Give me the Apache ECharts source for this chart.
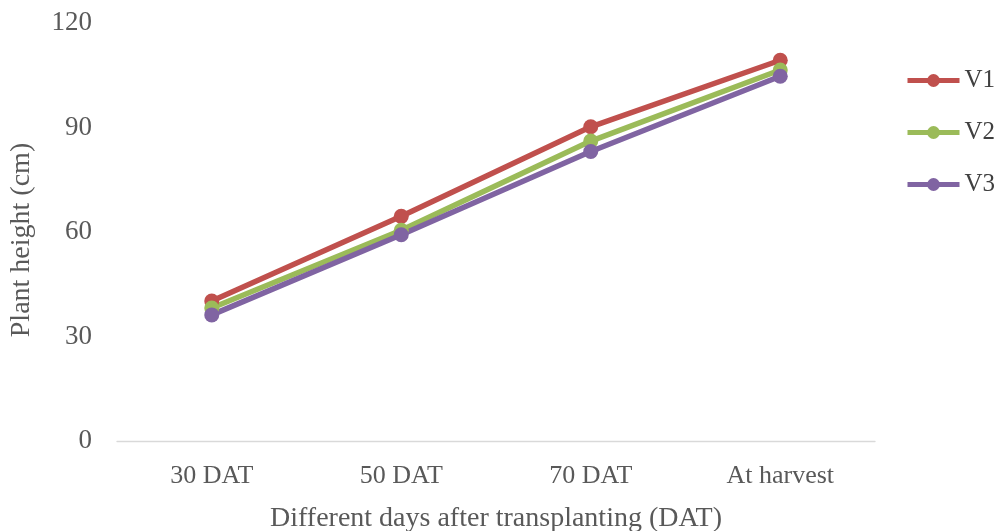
<!DOCTYPE html>
<html>
<head>
<meta charset="utf-8">
<script src="https://cdn.jsdelivr.net/npm/echarts@6/dist/echarts.min.js"></script>
<style>
  html, body { margin: 0; padding: 0; background: #fff; }
  #chart { width: 1000px; height: 531px; }
</style>
</head>
<body>
<div id="chart"></div>
<script>
// Plant height at each growth stage for three varieties
const categories = ['30 DAT', '50 DAT', '70 DAT', 'At harvest'];
const v1 = [40.2, 64.5, 90.2, 109.3];
const v2 = [38.2, 60.5, 86.1, 106.5];
const v3 = [36.2, 59.2, 83.1, 104.7];
const yTicks = { min: 0, max: 120, interval: 30 };

const seriesDefs = [
  { name: 'V1', data: v1, color: '#C0504D' },
  { name: 'V2', data: v2, color: '#9BBB59' },
  { name: 'V3', data: v3, color: '#8064A2' }
];

const font = '"Liberation Serif", "Times New Roman", serif';
const chart = echarts.init(document.getElementById('chart'));
chart.setOption({
  animation: false,
  backgroundColor: '#ffffff',
  grid: { left: 117, right: 125, top: 23, bottom: 90, containLabel: false, outerBoundsMode: 'none' },
  legend: {
    orient: 'vertical',
    left: 905,
    top: 68,
    padding: 0,
    itemWidth: 52,
    itemHeight: 16,
    itemGap: 27,
    lineStyle: { width: 5 },
    textStyle: { fontFamily: font, fontSize: 25, color: '#404040' },
    data: ['V1', 'V2', 'V3']
  },
  xAxis: {
    type: 'category',
    data: categories,
    boundaryGap: true,
    axisLine: { lineStyle: { color: '#D9D9D9', width: 1.3 } },
    axisTick: { show: false },
    axisLabel: { fontFamily: font, fontSize: 26, color: '#595959', margin: 22 },
    name: 'Different days after transplanting (DAT)',
    nameLocation: 'middle',
    nameGap: 64,
    nameTextStyle: { fontFamily: font, fontSize: 28, color: '#595959' }
  },
  yAxis: {
    type: 'value',
    min: yTicks.min,
    max: yTicks.max,
    interval: yTicks.interval,
    splitLine: { show: false },
    axisLine: { show: false },
    axisTick: { show: false },
    axisLabel: { fontFamily: font, fontSize: 27, color: '#595959', margin: 25 },
    name: 'Plant height (cm)',
    nameLocation: 'middle',
    nameGap: 81,
    nameRotate: 90,
    nameTextStyle: { fontFamily: font, fontSize: 28, color: '#595959', padding: [0, 16, 0, 0] }
  },
  series: seriesDefs.map(s => ({
    name: s.name,
    type: 'line',
    data: s.data,
    symbol: 'circle',
    symbolSize: 15,
    lineStyle: { color: s.color, width: 5.5 },
    itemStyle: { color: s.color }
  }))
});
</script>
</body>
</html>
